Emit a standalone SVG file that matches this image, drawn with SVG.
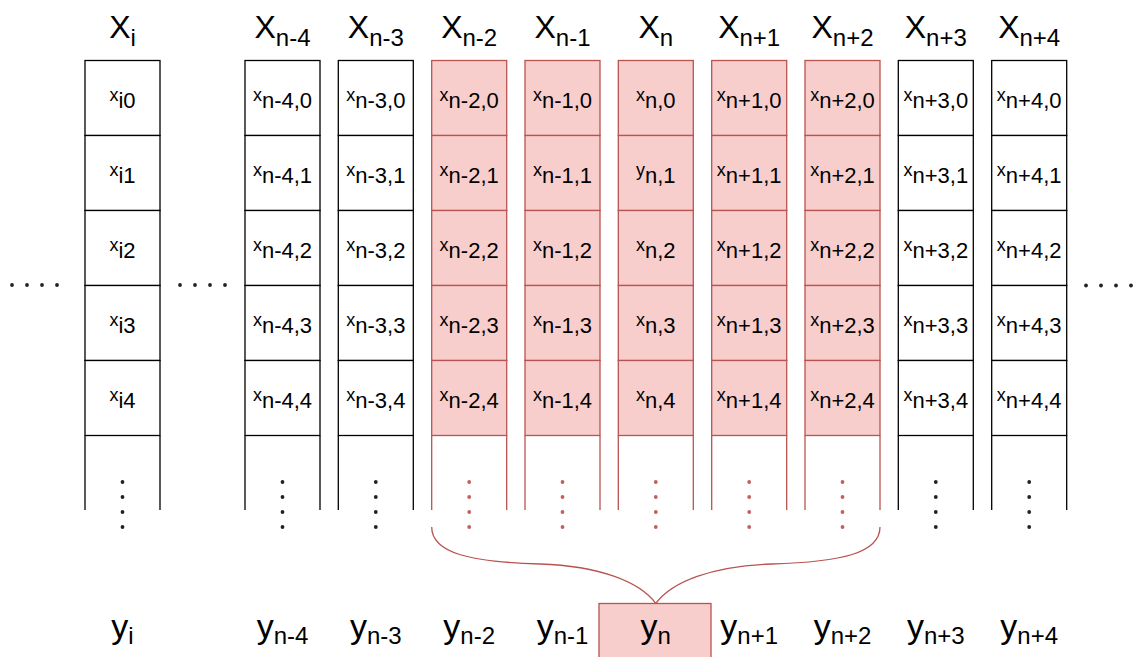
<svg xmlns="http://www.w3.org/2000/svg" width="1135" height="657" viewBox="0 0 1135 657">
<style>
text{font-family:"Liberation Sans",Arial,Helvetica,sans-serif;fill:#000;text-anchor:middle}
.cell rect{fill:#fff;stroke:#000;stroke-width:1.3}
.red rect{fill:#f8cecc;stroke:#b85450}
.side{stroke:#000;stroke-width:1.3;fill:none}
.red .side{stroke:#b85450}
.dot{fill:#222}
.red .dot{fill:#c0605c}
.cm{font-size:18px}
.cs{font-size:22px}
.h{font-size:32px}
.hs{font-size:24px}
.y{font-size:34px}
.ys{font-size:24px}
.brace{fill:none;stroke:#b85450;stroke-width:1.3}
</style>
<defs>
<g id="vdots"><circle cx="0" cy="482" r="1.9"/><circle cx="0" cy="497" r="1.9"/><circle cx="0" cy="512" r="1.9"/><circle cx="0" cy="527" r="1.9"/></g>
</defs>

<!-- horizontal ellipses -->
<g id="hdots-left" class="dot" fill="#222">
<circle cx="12" cy="285" r="1.9"/><circle cx="27" cy="285" r="1.9"/><circle cx="42" cy="285" r="1.9"/><circle cx="57" cy="285" r="1.9"/>
</g>
<g id="hdots-mid" fill="#222">
<circle cx="180" cy="285" r="1.9"/><circle cx="195" cy="285" r="1.9"/><circle cx="210" cy="285" r="1.9"/><circle cx="225" cy="285" r="1.9"/>
</g>
<g id="hdots-right" fill="#222">
<circle cx="1086" cy="285.5" r="1.9"/><circle cx="1101" cy="285.5" r="1.9"/><circle cx="1116" cy="285.5" r="1.9"/><circle cx="1131" cy="285.5" r="1.9"/>
</g>

<!-- column X_i -->
<g id="col-i" class="cell">
<text class="h" x="122.5" y="38">X<tspan class="hs" dy="8">i</tspan></text>
<g id="x-i-0"><rect x="85" y="60.5" width="75" height="75"/><text x="122.5" y="101" class="cm">x<tspan class="cs" dy="7">i0</tspan></text></g>
<g id="x-i-1"><rect x="85" y="135.5" width="75" height="75"/><text x="122.5" y="176" class="cm">x<tspan class="cs" dy="7">i1</tspan></text></g>
<g id="x-i-2"><rect x="85" y="210.5" width="75" height="75"/><text x="122.5" y="251" class="cm">x<tspan class="cs" dy="7">i2</tspan></text></g>
<g id="x-i-3"><rect x="85" y="285.5" width="75" height="75"/><text x="122.5" y="326" class="cm">x<tspan class="cs" dy="7">i3</tspan></text></g>
<g id="x-i-4"><rect x="85" y="360.5" width="75" height="75"/><text x="122.5" y="401" class="cm">x<tspan class="cs" dy="7">i4</tspan></text></g>
<path class="side" d="M85,435.5V510M160,435.5V510"/>
<use href="#vdots" x="122.5" class="dot"/>
</g>

<!-- column X_n-4 -->
<g id="col-n-4" class="cell">
<text class="h" x="282.5" y="38">X<tspan class="hs" dy="8">n-4</tspan></text>
<g id="x-n-4-0"><rect x="245" y="60.5" width="75" height="75"/><text x="282.5" y="101" class="cm">x<tspan class="cs" dy="7">n-4,0</tspan></text></g>
<g id="x-n-4-1"><rect x="245" y="135.5" width="75" height="75"/><text x="282.5" y="176" class="cm">x<tspan class="cs" dy="7">n-4,1</tspan></text></g>
<g id="x-n-4-2"><rect x="245" y="210.5" width="75" height="75"/><text x="282.5" y="251" class="cm">x<tspan class="cs" dy="7">n-4,2</tspan></text></g>
<g id="x-n-4-3"><rect x="245" y="285.5" width="75" height="75"/><text x="282.5" y="326" class="cm">x<tspan class="cs" dy="7">n-4,3</tspan></text></g>
<g id="x-n-4-4"><rect x="245" y="360.5" width="75" height="75"/><text x="282.5" y="401" class="cm">x<tspan class="cs" dy="7">n-4,4</tspan></text></g>
<path class="side" d="M245,435.5V510M320,435.5V510"/>
<use href="#vdots" x="282.5" class="dot"/>
</g>

<!-- column X_n-3 -->
<g id="col-n-3" class="cell">
<text class="h" x="375.8" y="38">X<tspan class="hs" dy="8">n-3</tspan></text>
<g id="x-n-3-0"><rect x="338.3" y="60.5" width="75" height="75"/><text x="375.8" y="101" class="cm">x<tspan class="cs" dy="7">n-3,0</tspan></text></g>
<g id="x-n-3-1"><rect x="338.3" y="135.5" width="75" height="75"/><text x="375.8" y="176" class="cm">x<tspan class="cs" dy="7">n-3,1</tspan></text></g>
<g id="x-n-3-2"><rect x="338.3" y="210.5" width="75" height="75"/><text x="375.8" y="251" class="cm">x<tspan class="cs" dy="7">n-3,2</tspan></text></g>
<g id="x-n-3-3"><rect x="338.3" y="285.5" width="75" height="75"/><text x="375.8" y="326" class="cm">x<tspan class="cs" dy="7">n-3,3</tspan></text></g>
<g id="x-n-3-4"><rect x="338.3" y="360.5" width="75" height="75"/><text x="375.8" y="401" class="cm">x<tspan class="cs" dy="7">n-3,4</tspan></text></g>
<path class="side" d="M338.3,435.5V510M413.3,435.5V510"/>
<use href="#vdots" x="375.8" class="dot"/>
</g>

<!-- column X_n-2 -->
<g id="col-n-2" class="cell red">
<text class="h" x="469.2" y="38">X<tspan class="hs" dy="8">n-2</tspan></text>
<g id="x-n-2-0"><rect x="431.7" y="60.5" width="75" height="75"/><text x="469.2" y="101" class="cm">x<tspan class="cs" dy="7">n-2,0</tspan></text></g>
<g id="x-n-2-1"><rect x="431.7" y="135.5" width="75" height="75"/><text x="469.2" y="176" class="cm">x<tspan class="cs" dy="7">n-2,1</tspan></text></g>
<g id="x-n-2-2"><rect x="431.7" y="210.5" width="75" height="75"/><text x="469.2" y="251" class="cm">x<tspan class="cs" dy="7">n-2,2</tspan></text></g>
<g id="x-n-2-3"><rect x="431.7" y="285.5" width="75" height="75"/><text x="469.2" y="326" class="cm">x<tspan class="cs" dy="7">n-2,3</tspan></text></g>
<g id="x-n-2-4"><rect x="431.7" y="360.5" width="75" height="75"/><text x="469.2" y="401" class="cm">x<tspan class="cs" dy="7">n-2,4</tspan></text></g>
<path class="side" d="M431.7,435.5V510M506.7,435.5V510"/>
<use href="#vdots" x="469.2" class="dot"/>
</g>

<!-- column X_n-1 -->
<g id="col-n-1" class="cell red">
<text class="h" x="562.5" y="38">X<tspan class="hs" dy="8">n-1</tspan></text>
<g id="x-n-1-0"><rect x="525" y="60.5" width="75" height="75"/><text x="562.5" y="101" class="cm">x<tspan class="cs" dy="7">n-1,0</tspan></text></g>
<g id="x-n-1-1"><rect x="525" y="135.5" width="75" height="75"/><text x="562.5" y="176" class="cm">x<tspan class="cs" dy="7">n-1,1</tspan></text></g>
<g id="x-n-1-2"><rect x="525" y="210.5" width="75" height="75"/><text x="562.5" y="251" class="cm">x<tspan class="cs" dy="7">n-1,2</tspan></text></g>
<g id="x-n-1-3"><rect x="525" y="285.5" width="75" height="75"/><text x="562.5" y="326" class="cm">x<tspan class="cs" dy="7">n-1,3</tspan></text></g>
<g id="x-n-1-4"><rect x="525" y="360.5" width="75" height="75"/><text x="562.5" y="401" class="cm">x<tspan class="cs" dy="7">n-1,4</tspan></text></g>
<path class="side" d="M525,435.5V510M600,435.5V510"/>
<use href="#vdots" x="562.5" class="dot"/>
</g>

<!-- column X_n -->
<g id="col-n" class="cell red">
<text class="h" x="655.8" y="38">X<tspan class="hs" dy="8">n</tspan></text>
<g id="x-n-0"><rect x="618.3" y="60.5" width="75" height="75"/><text x="655.8" y="101" class="cm">x<tspan class="cs" dy="7">n,0</tspan></text></g>
<g id="x-n-1"><rect x="618.3" y="135.5" width="75" height="75"/><text x="655.8" y="176" class="cm">y<tspan class="cs" dy="7">n,1</tspan></text></g>
<g id="x-n-2"><rect x="618.3" y="210.5" width="75" height="75"/><text x="655.8" y="251" class="cm">x<tspan class="cs" dy="7">n,2</tspan></text></g>
<g id="x-n-3"><rect x="618.3" y="285.5" width="75" height="75"/><text x="655.8" y="326" class="cm">x<tspan class="cs" dy="7">n,3</tspan></text></g>
<g id="x-n-4"><rect x="618.3" y="360.5" width="75" height="75"/><text x="655.8" y="401" class="cm">x<tspan class="cs" dy="7">n,4</tspan></text></g>
<path class="side" d="M618.3,435.5V510M693.3,435.5V510"/>
<use href="#vdots" x="655.8" class="dot"/>
</g>

<!-- column X_n+1 -->
<g id="col-n+1" class="cell red">
<text class="h" x="749.2" y="38">X<tspan class="hs" dy="8">n+1</tspan></text>
<g id="x-n+1-0"><rect x="711.7" y="60.5" width="75" height="75"/><text x="749.2" y="101" class="cm">x<tspan class="cs" dy="7">n+1,0</tspan></text></g>
<g id="x-n+1-1"><rect x="711.7" y="135.5" width="75" height="75"/><text x="749.2" y="176" class="cm">x<tspan class="cs" dy="7">n+1,1</tspan></text></g>
<g id="x-n+1-2"><rect x="711.7" y="210.5" width="75" height="75"/><text x="749.2" y="251" class="cm">x<tspan class="cs" dy="7">n+1,2</tspan></text></g>
<g id="x-n+1-3"><rect x="711.7" y="285.5" width="75" height="75"/><text x="749.2" y="326" class="cm">x<tspan class="cs" dy="7">n+1,3</tspan></text></g>
<g id="x-n+1-4"><rect x="711.7" y="360.5" width="75" height="75"/><text x="749.2" y="401" class="cm">x<tspan class="cs" dy="7">n+1,4</tspan></text></g>
<path class="side" d="M711.7,435.5V510M786.7,435.5V510"/>
<use href="#vdots" x="749.2" class="dot"/>
</g>

<!-- column X_n+2 -->
<g id="col-n+2" class="cell red">
<text class="h" x="842.5" y="38">X<tspan class="hs" dy="8">n+2</tspan></text>
<g id="x-n+2-0"><rect x="805" y="60.5" width="75" height="75"/><text x="842.5" y="101" class="cm">x<tspan class="cs" dy="7">n+2,0</tspan></text></g>
<g id="x-n+2-1"><rect x="805" y="135.5" width="75" height="75"/><text x="842.5" y="176" class="cm">x<tspan class="cs" dy="7">n+2,1</tspan></text></g>
<g id="x-n+2-2"><rect x="805" y="210.5" width="75" height="75"/><text x="842.5" y="251" class="cm">x<tspan class="cs" dy="7">n+2,2</tspan></text></g>
<g id="x-n+2-3"><rect x="805" y="285.5" width="75" height="75"/><text x="842.5" y="326" class="cm">x<tspan class="cs" dy="7">n+2,3</tspan></text></g>
<g id="x-n+2-4"><rect x="805" y="360.5" width="75" height="75"/><text x="842.5" y="401" class="cm">x<tspan class="cs" dy="7">n+2,4</tspan></text></g>
<path class="side" d="M805,435.5V510M880,435.5V510"/>
<use href="#vdots" x="842.5" class="dot"/>
</g>

<!-- column X_n+3 -->
<g id="col-n+3" class="cell">
<text class="h" x="935.8" y="38">X<tspan class="hs" dy="8">n+3</tspan></text>
<g id="x-n+3-0"><rect x="898.3" y="60.5" width="75" height="75"/><text x="935.8" y="101" class="cm">x<tspan class="cs" dy="7">n+3,0</tspan></text></g>
<g id="x-n+3-1"><rect x="898.3" y="135.5" width="75" height="75"/><text x="935.8" y="176" class="cm">x<tspan class="cs" dy="7">n+3,1</tspan></text></g>
<g id="x-n+3-2"><rect x="898.3" y="210.5" width="75" height="75"/><text x="935.8" y="251" class="cm">x<tspan class="cs" dy="7">n+3,2</tspan></text></g>
<g id="x-n+3-3"><rect x="898.3" y="285.5" width="75" height="75"/><text x="935.8" y="326" class="cm">x<tspan class="cs" dy="7">n+3,3</tspan></text></g>
<g id="x-n+3-4"><rect x="898.3" y="360.5" width="75" height="75"/><text x="935.8" y="401" class="cm">x<tspan class="cs" dy="7">n+3,4</tspan></text></g>
<path class="side" d="M898.3,435.5V510M973.3,435.5V510"/>
<use href="#vdots" x="935.8" class="dot"/>
</g>

<!-- column X_n+4 -->
<g id="col-n+4" class="cell">
<text class="h" x="1029.2" y="38">X<tspan class="hs" dy="8">n+4</tspan></text>
<g id="x-n+4-0"><rect x="991.7" y="60.5" width="75" height="75"/><text x="1029.2" y="101" class="cm">x<tspan class="cs" dy="7">n+4,0</tspan></text></g>
<g id="x-n+4-1"><rect x="991.7" y="135.5" width="75" height="75"/><text x="1029.2" y="176" class="cm">x<tspan class="cs" dy="7">n+4,1</tspan></text></g>
<g id="x-n+4-2"><rect x="991.7" y="210.5" width="75" height="75"/><text x="1029.2" y="251" class="cm">x<tspan class="cs" dy="7">n+4,2</tspan></text></g>
<g id="x-n+4-3"><rect x="991.7" y="285.5" width="75" height="75"/><text x="1029.2" y="326" class="cm">x<tspan class="cs" dy="7">n+4,3</tspan></text></g>
<g id="x-n+4-4"><rect x="991.7" y="360.5" width="75" height="75"/><text x="1029.2" y="401" class="cm">x<tspan class="cs" dy="7">n+4,4</tspan></text></g>
<path class="side" d="M991.7,435.5V510M1066.7,435.5V510"/>
<use href="#vdots" x="1029.2" class="dot"/>
</g>

<!-- connectors -->
<g id="connectors">
<path class="brace" d="M431.7,527 C431.7,553 470,562 540,564 C600,566 640,582 655.8,603.5 C671.6,582 711.6,566 771.6,564 C841.6,562 880,553 880,527"/>
</g>

<!-- y_n box -->
<g id="y-n-box">
<rect x="599" y="603.5" width="112" height="60" fill="#f8cecc" stroke="#b85450" stroke-width="1.3"/>
<text class="y" x="655.8" y="638">y<tspan class="ys" dy="6">n</tspan></text>
</g>

<!-- bottom labels -->
<g id="labels-y">
<text class="y" x="122.5" y="638">y<tspan class="ys" dy="6">i</tspan></text>
<text class="y" x="282.5" y="638">y<tspan class="ys" dy="6">n-4</tspan></text>
<text class="y" x="375.8" y="638">y<tspan class="ys" dy="6">n-3</tspan></text>
<text class="y" x="469.2" y="638">y<tspan class="ys" dy="6">n-2</tspan></text>
<text class="y" x="562.5" y="638">y<tspan class="ys" dy="6">n-1</tspan></text>
<text class="y" x="749.2" y="638">y<tspan class="ys" dy="6">n+1</tspan></text>
<text class="y" x="842.5" y="638">y<tspan class="ys" dy="6">n+2</tspan></text>
<text class="y" x="935.8" y="638">y<tspan class="ys" dy="6">n+3</tspan></text>
<text class="y" x="1029.2" y="638">y<tspan class="ys" dy="6">n+4</tspan></text>
</g>
</svg>
